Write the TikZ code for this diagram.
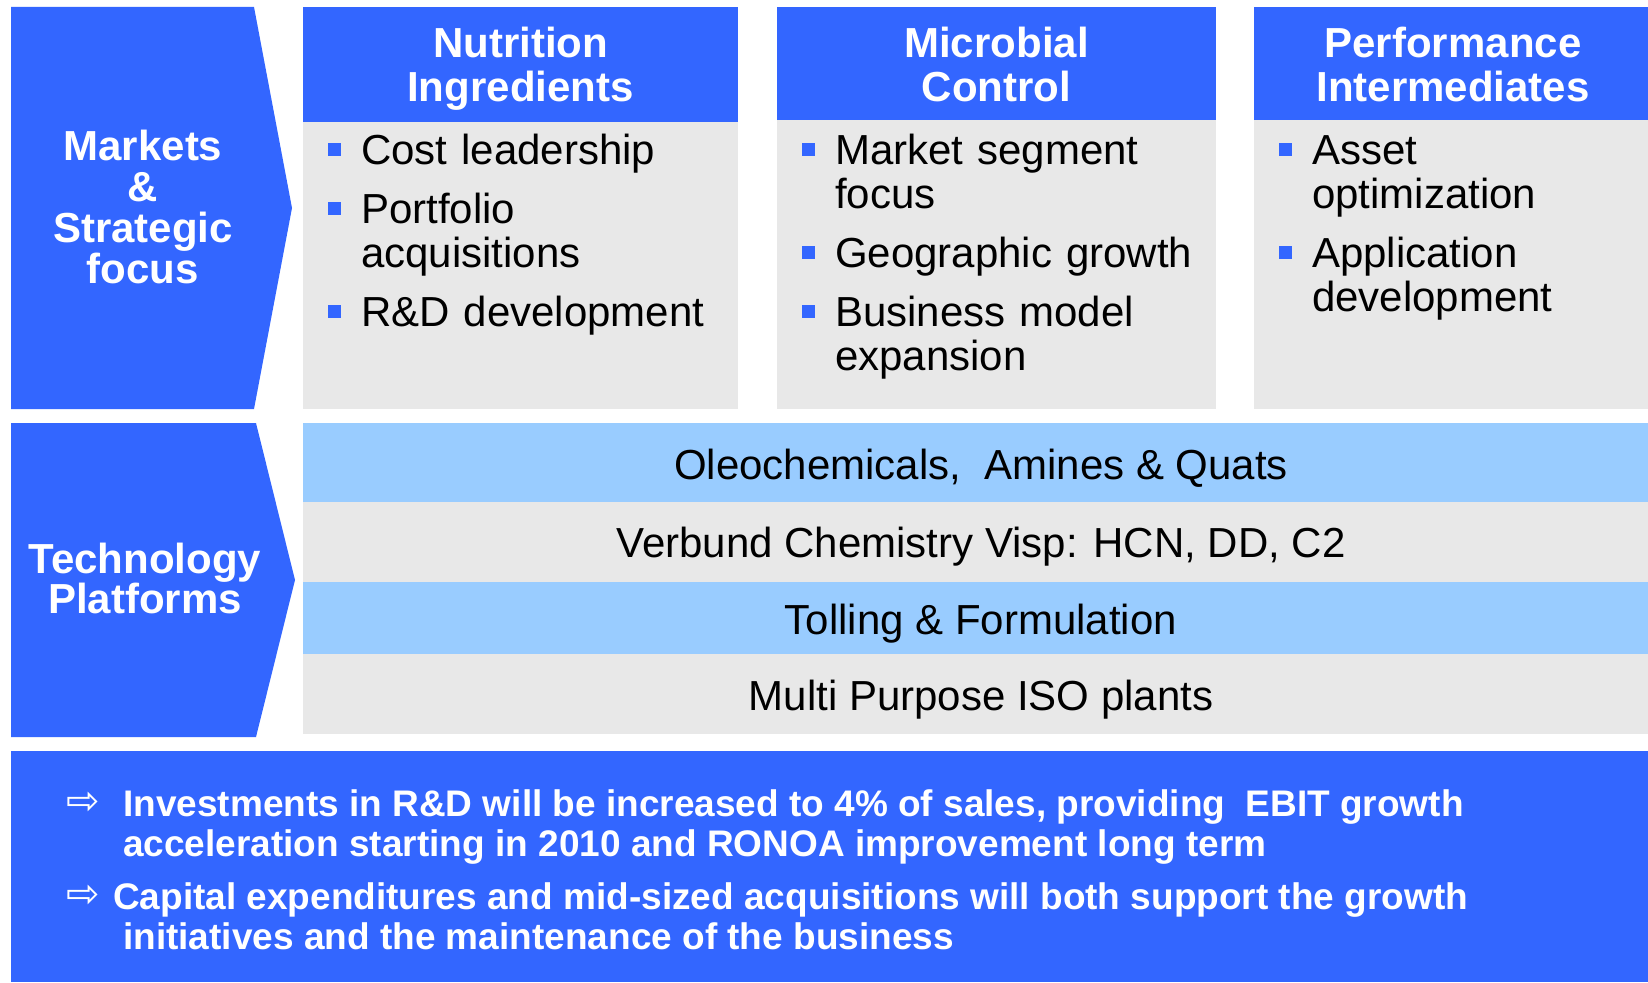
\documentclass[tikz,border=0pt]{standalone}
\usepackage{fontspec}
\setmainfont{Liberation Sans}
\newfontfamily\arrowfont{DejaVu Sans}
\usepackage{tikz}

\definecolor{stratblue}{HTML}{3366FF}
\definecolor{bandblue}{HTML}{99CCFF}
\definecolor{bandgray}{HTML}{E8E8E8}

% square blue bullet with hanging text
\newcommand{\bitem}[1]{\hangindent=33pt\hangafter=1\noindent\makebox[33pt][l]{\textcolor{stratblue}{\rule[8pt]{13pt}{13pt}}}#1\par\addvspace{15pt}}

\begin{document}
\begin{tikzpicture}[x=1pt, y=-1pt,
    sidetext/.style={anchor=base, align=center, text=white, inner sep=0pt, font=\fontsize{42}{41}\selectfont\bfseries},
    headtext/.style={anchor=base, align=center, text=white, inner sep=0pt, font=\fontsize{42}{44}\selectfont\bfseries},
    listtext/.style={anchor=base west, text width=395pt, inner sep=0pt, font=\fontsize{42}{44}\selectfont},
    bandtext/.style={anchor=base, inner sep=0pt, font=\fontsize{42}{44}\selectfont},
    bottomtext/.style={anchor=base west, align=left, text=white, inner sep=0pt, font=\fontsize{37}{40}\selectfont\bfseries},
    arrowmark/.style={text=white, inner sep=0pt, font=\arrowfont\fontsize{40}{40}\selectfont}]
    \useasboundingbox (0,0) rectangle (1648,982);

    \def\colTop{7}
    \def\colBot{409}

    % Chevrons on the left (labels sit on their last baseline)
    \fill[stratblue] (11,\colTop) -- (254,\colTop) -- (292,208) -- (254,\colBot) -- (11,\colBot) -- cycle;
    \fill[stratblue] (11,423) -- (256,423) -- (295,580) -- (256,737) -- (11,737) -- cycle;
    \node[sidetext] (marketlabel) at (143,283) {Markets\\\&\\Strategic\\focus};
    \node[sidetext, font=\fontsize{42}{40}\selectfont\bfseries] (techlabel) at (145,613) {Technology\\Platforms};

    % Business columns
    \fill[bandgray] (303,\colTop) rectangle (738,\colBot);
    \fill[stratblue] (303,\colTop) rectangle (738,122);
    \fill[bandgray] (777,\colTop) rectangle (1216,\colBot);
    \fill[stratblue] (777,\colTop) rectangle (1216,120);
    \fill[bandgray] (1254,\colTop) rectangle (1648,\colBot);
    \fill[stratblue] (1254,\colTop) rectangle (1648,120);

    \node[headtext] (nutrhead) at (520.5,101) {Nutrition\\Ingredients};
    \node[headtext] (microhead) at (996.5,101) {Microbial\\Control};
    \node[headtext] (perfhead) at (1453,101) {Performance\\Intermediates};

    \node[listtext] (nutrlist) at (328,164) {\bitem{Cost leadership}\bitem{Portfolio\newline acquisitions}\bitem{R\&D development}};
    \node[listtext] (microlist) at (802,164) {\bitem{Market segment\newline focus}\bitem{Geographic growth}\bitem{Business model\newline expansion}};
    \node[listtext, text width=360pt] (perflist) at (1279,164) {\bitem{Asset\newline optimization}\bitem{Application\newline development}};

    % Technology bands
    \fill[bandblue] (303,423) rectangle (1648,502);
    \fill[bandgray] (303,502) rectangle (1648,582);
    \fill[bandblue] (303,582) rectangle (1648,654);
    \fill[bandgray] (303,654) rectangle (1648,734);

    \node[bandtext] (oleo) at (981,479) {Oleochemicals,\ \ Amines \& Quats};
    \node[bandtext] (verbund) at (981,557) {Verbund Chemistry Visp: HCN, DD, C2};
    \node[bandtext] (tolling) at (981,634) {Tolling \& Formulation};
    \node[bandtext] (multi) at (981,710) {Multi Purpose ISO plants};

    % Bottom message
    \fill[stratblue] (11,751) rectangle (1648,982);
    \node[arrowmark] (investarrow) at (83,803) {⇨};
    \node[bottomtext] (invest) at (123,856) {Investments in R\&D will be increased to 4\% of sales, providing\ \ EBIT growth\\acceleration starting in 2010 and RONOA improvement long term};
    \node[arrowmark] (capexarrow) at (83,896) {⇨};
    \node[bottomtext] (capex) at (113,949) {Capital expenditures and mid-sized acquisitions will both support the growth\\\hspace*{10pt}initiatives and the maintenance of the business};
\end{tikzpicture}
\end{document}
